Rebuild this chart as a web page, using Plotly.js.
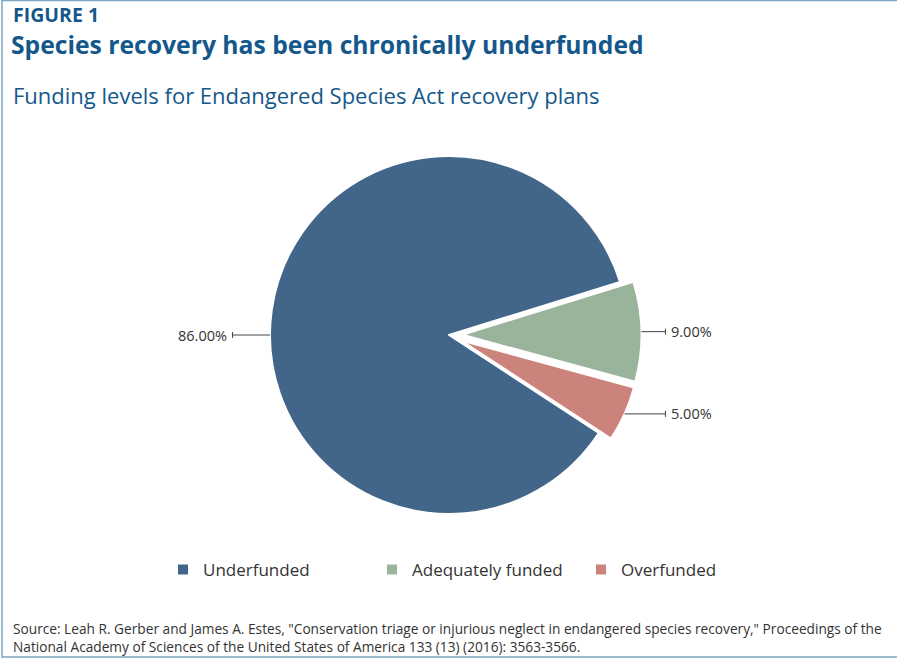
<!DOCTYPE html>
<html>
<head>
<meta charset="utf-8">
<script src="https://cdn.plot.ly/plotly-3.0.1.min.js"></script>
<style>
html,body{margin:0;padding:0;background:#fff;}
#chart{width:897px;height:660px;}
</style>
</head>
<body>
<div id="chart"></div>
<script>
// ---- data ----
const categories = ['Underfunded', 'Adequately funded', 'Overfunded'];
const shares = [86, 9, 5];
const sliceColors = ['#416689', '#9ab39b', '#cc837c'];
const pulls = [0, 0.075, 0.075];

// ---- geometry / style ----
const W = 897, H = 660;
const CX = 449, CY = 335, R = 179;
const ROT = 123.2;
const maxPull = Math.max(...pulls);
const box = 2 * R * (1 + maxPull);
const px = x => x / W;
const py = y => 1 - y / H;
const textColor = '#333333';
const blue = '#14588b';
const FONT = 'Open Sans, Noto Sans, sans-serif';

const total = shares.reduce((a, b) => a + b, 0);
const labelText = shares.map(v => (v / total * 100).toFixed(2) + '%');

// leader lines & labels computed from the data
const shapes = [];
const annotations = [];
let acc = 0;
shares.forEach((v, i) => {
  const span = v / total * 360;
  const a0 = ROT + acc, a1 = a0 + span;
  acc += span;
  const mid = (a0 + a1) / 2;
  const rad = mid * Math.PI / 180;
  const sx = Math.sin(rad), sy = -Math.cos(rad);
  const off = pulls[i] * R;
  let ex = CX + off * sx + R * sx, ey = CY + off * sy + R * sy;
  if (span > 180) { // large slice: anchor at its extreme horizontal point
    const s = sx < 0 ? -1 : 1;
    ex = CX + s * R; ey = CY;
  }
  const side = ex < CX ? -1 : 1;
  const endX = CX + side * (R * (1 + maxPull) + 24);
  shapes.push({type: 'line', xref: 'paper', yref: 'paper',
    x0: px(ex), y0: py(ey), x1: px(endX), y1: py(ey),
    line: {color: '#444', width: 1}});
  shapes.push({type: 'line', xref: 'paper', yref: 'paper',
    x0: px(endX), y0: py(ey - 3), x1: px(endX), y1: py(ey + 3),
    line: {color: '#444', width: 1}});
  annotations.push({xref: 'paper', yref: 'paper', x: px(endX + side * 4), y: py(ey),
    xanchor: side < 0 ? 'right' : 'left', yanchor: 'middle', showarrow: false,
    text: labelText[i], font: {family: FONT, size: 14.5, color: textColor}});
});

// frame
shapes.push({type: 'rect', xref: 'paper', yref: 'paper', layer: 'below',
  x0: px(2), x1: px(905), y0: py(657), y1: py(0.5),
  line: {color: '#7ca7c6', width: 1.5}, fillcolor: 'rgba(0,0,0,0)'});

annotations.push({xref: 'paper', yref: 'paper', x: px(11), y: py(15), xanchor: 'left', yanchor: 'middle',
  showarrow: false, text: '<b>FIGURE 1</b>', font: {family: FONT, size: 19.5, color: blue}});
annotations.push({xref: 'paper', yref: 'paper', x: px(11), y: py(95), xanchor: 'left', yanchor: 'middle',
  showarrow: false, text: 'Funding levels for Endangered Species Act recovery plans',
  font: {family: FONT, size: 22, color: blue}});
annotations.push({xref: 'paper', yref: 'paper', x: px(11), y: py(637), xanchor: 'left', yanchor: 'middle',
  showarrow: false, align: 'left',
  text: 'Source: Leah R. Gerber and James A. Estes, "Conservation triage or injurious neglect in endangered species recovery," Proceedings of the<br>National Academy of Sciences of the United States of America 133 (13) (2016): 3563-3566.',
  font: {family: FONT, size: 13.7, color: textColor}});

const trace = {
  type: 'pie',
  labels: categories,
  values: shares,
  sort: false,
  direction: 'clockwise',
  rotation: ROT,
  pull: pulls,
  textinfo: 'none',
  hoverinfo: 'skip',
  marker: {colors: sliceColors, line: {color: '#ffffff', width: 2}},
  domain: {x: [px(CX - box / 2), px(CX + box / 2)], y: [py(CY + box / 2), py(CY - box / 2)]}
};

const layout = {
  width: W, height: H,
  margin: {l: 0, r: 0, t: 0, b: 0},
  paper_bgcolor: '#ffffff',
  title: {text: '<b>Species recovery has been chronically underfunded</b>',
    x: px(11), xanchor: 'left', xref: 'paper', y: py(45), yanchor: 'middle', yref: 'paper',
    font: {family: FONT, size: 24.7, color: blue}},
  showlegend: true,
  legend: {orientation: 'h', x: px(163), xanchor: 'left', y: py(570), yanchor: 'middle',
    entrywidth: 164, entrywidthmode: 'pixels',
    font: {family: FONT, size: 17, color: textColor}, traceorder: 'normal'},
  shapes: shapes,
  annotations: annotations
};

Plotly.newPlot('chart', [trace], layout, {displayModeBar: false, staticPlot: true});
</script>
</body>
</html>
